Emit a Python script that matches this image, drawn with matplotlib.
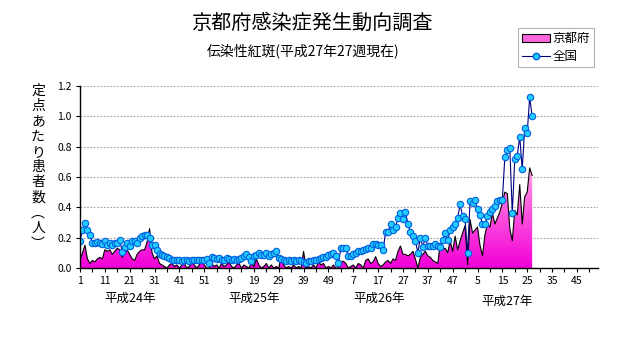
import numpy as np
import matplotlib
matplotlib.use("Agg")
import matplotlib.pyplot as plt
from matplotlib.colors import LinearSegmentedColormap
from matplotlib.patches import Patch
from matplotlib.lines import Line2D

plt.rcParams['font.family'] = ['Noto Sans CJK JP', 'DejaVu Sans']

# ---- data (weekly values, 平成24年 week 1 .. 平成27年 week 27) ----
national_h24 = [0.18, 0.25, 0.30, 0.25, 0.22, 0.165, 0.165, 0.17, 0.165, 0.16,
                0.18, 0.15, 0.165, 0.15, 0.165, 0.165, 0.185, 0.105, 0.14, 0.165,
                0.145, 0.18, 0.18, 0.165, 0.195, 0.21, 0.22, 0.22, 0.20, 0.15,
                0.15, 0.12, 0.09, 0.085, 0.08, 0.07, 0.065, 0.055, 0.05, 0.05,
                0.05, 0.048, 0.05, 0.05, 0.048, 0.055, 0.05, 0.055, 0.055, 0.055,
                0.055, 0.06]
national_h25 = [0.03, 0.07, 0.065, 0.06, 0.065, 0.055, 0.05, 0.065, 0.06, 0.05,
                0.06, 0.055, 0.06, 0.065, 0.08, 0.09, 0.07, 0.045, 0.08, 0.085,
                0.10, 0.085, 0.085, 0.10, 0.08, 0.09, 0.10, 0.11, 0.065, 0.06,
                0.05, 0.045, 0.05, 0.045, 0.05, 0.045, 0.05, 0.045, 0.04, 0.035,
                0.045, 0.045, 0.05, 0.055, 0.06, 0.065, 0.07, 0.075, 0.085, 0.09,
                0.10, 0.08]
national_h26 = [0.03, 0.13, 0.13, 0.13, 0.08, 0.08, 0.095, 0.10, 0.11, 0.11,
                0.12, 0.125, 0.13, 0.135, 0.16, 0.155, 0.15, 0.15,
                0.118, 0.235, 0.24, 0.29, 0.25, 0.27, 0.33, 0.36, 0.32, 0.37,
                0.29, 0.24, 0.21, 0.18, 0.10, 0.20, 0.14, 0.20, 0.145, 0.145,
                0.145, 0.16, 0.145, 0.14, 0.185, 0.23, 0.185, 0.25, 0.27, 0.29,
                0.33, 0.42, 0.34, 0.32]
national_h27 = [0.097, 0.44, 0.43, 0.45, 0.39, 0.35, 0.29, 0.29, 0.34, 0.37,
                0.39, 0.41, 0.44, 0.45, 0.45, 0.73, 0.78, 0.79, 0.36, 0.72,
                0.74, 0.865, 0.65, 0.925, 0.89, 1.125, 1.00]

kyoto_h24 = [0.05, 0.10, 0.15, 0.06, 0.03, 0.05, 0.04, 0.06, 0.07, 0.06,
             0.12, 0.11, 0.12, 0.09, 0.11, 0.13, 0.12, 0.07, 0.10, 0.12,
             0.09, 0.06, 0.05, 0.09, 0.11, 0.12, 0.12, 0.17, 0.26, 0.10,
             0.06, 0.08, 0.03, 0.02, 0.01, 0.00, 0.02, 0.03, 0.01, 0.02,
             0.00, 0.02, 0.03, 0.00, 0.01, 0.04, 0.02, 0.00, 0.02, 0.05,
             0.02, 0.00]
kyoto_h25 = [0.00, 0.03, 0.01, 0.02, 0.00, 0.03, 0.01, 0.02, 0.04, 0.01,
             0.00, 0.02, 0.03, 0.00, 0.02, 0.01, 0.00, 0.03, 0.01, 0.06,
             0.02, 0.00, 0.01, 0.03, 0.00, 0.02, 0.00, 0.01, 0.00, 0.08,
             0.02, 0.00, 0.01, 0.00, 0.02, 0.00, 0.01, 0.00, 0.11, 0.00,
             0.01, 0.00, 0.02, 0.00, 0.04, 0.02, 0.03, 0.00, 0.01, 0.00,
             0.02, 0.00]
kyoto_h26 = [0.00, 0.04, 0.045, 0.03, 0.00, 0.01, 0.02, 0.00, 0.03, 0.02,
             0.00, 0.05, 0.06, 0.03, 0.04, 0.075, 0.03, 0.01,
             0.02, 0.04, 0.05, 0.03, 0.06, 0.05, 0.11, 0.145, 0.09, 0.09,
             0.08, 0.09, 0.11, 0.06, 0.00, 0.07, 0.09, 0.11, 0.08, 0.07,
             0.05, 0.04, 0.03, 0.16, 0.12, 0.13, 0.10, 0.18, 0.11, 0.21,
             0.12, 0.18, 0.23, 0.28]
kyoto_h27 = [0.02, 0.32, 0.23, 0.25, 0.27, 0.15, 0.08, 0.22, 0.29, 0.27,
             0.36, 0.29, 0.33, 0.37, 0.43, 0.50, 0.49, 0.26, 0.18, 0.38,
             0.35, 0.55, 0.29, 0.47, 0.50, 0.66, 0.61]

weeks_per_year = [52, 52, 52, 53]
year_names = ['平成24年', '平成25年', '平成26年', '平成27年']
yticks = [0.0, 0.2, 0.4, 0.6, 0.8, 1.0, 1.2]

national = np.array(national_h24 + national_h25 + national_h26 + national_h27)
kyoto = np.array(kyoto_h24 + kyoto_h25 + kyoto_h26 + kyoto_h27)
x = np.arange(len(national))

# week labels along the whole axis
week_lbl = []
for n in weeks_per_year:
    week_lbl += list(range(1, n + 1))
n_total = len(week_lbl)

# ---- figure ----
fig = plt.figure(figsize=(6.31, 3.47), dpi=100)
ax = fig.add_axes([80 / 631, 1 - 268 / 347, 518 / 631, 182 / 347])

# Kyoto: gradient-filled area
poly = ax.fill_between(x, kyoto, 0, color='none', lw=0)
cmap = LinearSegmentedColormap.from_list('pk', ['#F000D8', '#FF55DD', '#FFB0E8'])
grad = np.linspace(0, 1, 256).reshape(-1, 1)
img = ax.imshow(grad, extent=[0, x[-1], 0, 0.72], origin='lower', aspect='auto',
                cmap=cmap, zorder=2)
img.set_clip_path(poly.get_paths()[0], transform=ax.transData)
ax.plot(x, kyoto, color='black', lw=0.8, zorder=3)

# national line
ax.plot(x, national, color='#000080', lw=0.8, marker='o', ms=4.6,
        mfc='#22CCFF', mec='#0060E0', mew=0.8, zorder=4)

ax.set_xlim(0, n_total - 0.5)
ax.set_ylim(0, 1.2)
ax.set_yticks(yticks)
ax.set_yticklabels([f'{v:.1f}' for v in yticks], fontsize=7.5)
major = list(range(0, n_total, 10))
ax.set_xticks(major)
ax.set_xticklabels([str(week_lbl[i]) for i in major], fontsize=7.5)
ax.set_xticks(list(range(5, n_total, 10)), minor=True)
ax.tick_params(axis='both', direction='out', length=3, width=0.8, pad=3)
ax.tick_params(axis='x', which='minor', direction='out', length=3, width=0.8)

for s in ['top', 'right']:
    ax.spines[s].set_visible(False)
for s in ['left', 'bottom']:
    ax.spines[s].set_linewidth(1.0)
    ax.spines[s].set_zorder(5)
ax.yaxis.grid(True, color='#A0A0A0', ls=(0, (1.5, 1.5)), lw=0.8)
ax.set_axisbelow(True)

# year labels
year_pos = [20, 70, 120.5, 172]
for name, pos, dy in zip(year_names, year_pos, [-0.165, -0.165, -0.165, -0.185]):
    ax.text(pos, dy, name, transform=ax.get_xaxis_transform(), ha='center',
            va='center', fontsize=9)

# titles
fig.text(312 / 631, 1 - 23 / 347, '京都府感染症発生動向調査', ha='center',
         va='center', fontsize=14.5)
fig.text(303 / 631, 1 - 51 / 347, '伝染性紅斑(平成27年27週現在)', ha='center',
         va='center', fontsize=10)

# stacked vertical y label
fig.text(38 / 631, 1 - 167 / 347, '定\n点\nあ\nた\nり\n患\n者\n数\n︵\n人\n︶',
         ha='center', va='center', fontsize=10, linespacing=1.12)

# legend
handles = [Patch(facecolor='#FF66DD', edgecolor='black', lw=0.8),
           Line2D([], [], color='#000080', lw=0.8, marker='o', ms=4.6,
                  mfc='#22CCFF', mec='#0060E0')]
leg = fig.legend(handles, ['京都府', '全国'], loc='upper left',
                 bbox_to_anchor=(518 / 631, 1 - 28 / 347), fontsize=9,
                 frameon=True, fancybox=False, edgecolor='#A0A0A0',
                 handlelength=2.2, handleheight=0.5, handletextpad=0.2,
                 borderpad=0.35, labelspacing=0.35, borderaxespad=0)
leg.get_frame().set_linewidth(0.8)

fig.savefig('out.png', dpi=100)
